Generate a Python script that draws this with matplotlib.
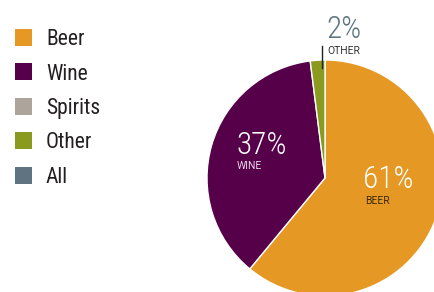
import matplotlib
matplotlib.use("Agg")
import matplotlib.pyplot as plt
from matplotlib.patches import Rectangle

categories = ["Beer", "Wine", "Spirits", "Other", "All"]
colors = ["#E69824", "#560049", "#ADA59B", "#8A9A1F", "#5E7480"]
pie_categories = ["Beer", "Wine", "Spirits", "Other"]
pie_values = [61, 37, 0, 2]

COND = ["Roboto Condensed", "DejaVu Sans"]
SMALL = ["Roboto", "DejaVu Sans"]

fig = plt.figure(figsize=(4.34, 2.92), dpi=100)
ax = fig.add_axes([0, 0, 1, 1])

vals = [v for v in pie_values if v > 0]
cols = [colors[categories.index(c)] for c, v in zip(pie_categories, pie_values) if v > 0]
ax.pie(vals, colors=cols, startangle=90, counterclock=False,
       center=(325, 114), radius=118, frame=True,
       wedgeprops=dict(edgecolor="white", linewidth=1.0))
ax.set_xlim(0, 434)
ax.set_ylim(0, 292)
ax.set_aspect("equal")
ax.axis("off")

# slice labels
ax.text(363, 104, f"{pie_values[0]}%", color="white", fontsize=22.5, family=COND,
        weight="light", ha="left", va="baseline")
ax.text(365, 88, pie_categories[0].upper(), color="#3F2A0E", fontsize=7.5, family=SMALL,
        ha="left", va="baseline")
ax.text(236, 138, f"{pie_values[1]}%", color="white", fontsize=22.5, family=COND,
        weight="light", ha="left", va="baseline")
ax.text(237, 123, pie_categories[1].upper(), color="#EBD6E7", fontsize=7.5, family=SMALL,
        ha="left", va="baseline")
ax.text(326, 254, f"{pie_values[3]}%", color="#5E7480", fontsize=22.5, family=COND,
        weight="light", ha="left", va="baseline")
ax.text(327, 238, pie_categories[3].upper(), color="#333333", fontsize=7.5, family=SMALL,
        ha="left", va="baseline")
ax.plot([322, 322], [224, 246], color="#222222", linewidth=1)

# legend
for i, (cat, col) in enumerate(zip(categories, colors)):
    yc = 292 - (37 + i * 34.5)
    ax.add_patch(Rectangle((15, yc - 8.5), 17, 17, facecolor=col, edgecolor="none"))
    ax.text(46, yc, cat, color="#231F20", fontsize=15.5, family=COND,
            ha="left", va="center_baseline")

fig.savefig("out.png", dpi=100)
